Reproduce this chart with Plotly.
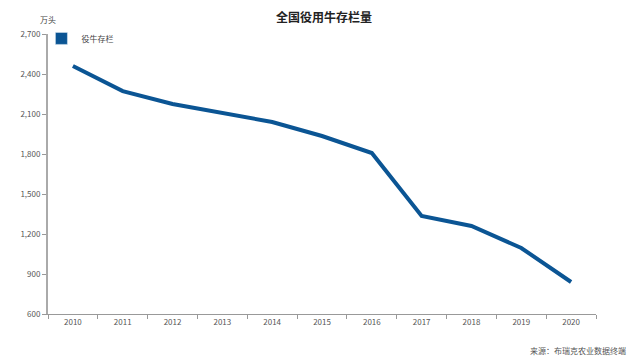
import plotly.graph_objects as go

years = ["2010", "2011", "2012", "2013", "2014", "2015", "2016", "2017", "2018", "2019", "2020"]
values = [2460, 2272, 2175, 2107, 2040, 1935, 1807, 1335, 1260, 1095, 840]
series_name = "役牛存栏"
y_ticks = [600, 900, 1200, 1500, 1800, 2100, 2400, 2700]

color = "#0b5594"
font_cn = "Noto Sans CJK SC"

fig = go.Figure()
fig.add_trace(go.Scatter(x=years, y=values, mode="lines", name=series_name,
                         line=dict(color=color, width=4), showlegend=False))
fig.add_trace(go.Bar(x=years, y=[None] * len(years), name=series_name,
                     marker=dict(color=color), showlegend=True))

fig.update_layout(
    width=632, height=352,
    margin=dict(l=38, r=44, t=26, b=46),
    paper_bgcolor="white", plot_bgcolor="white",
    font=dict(family=font_cn, size=9, color="#555"),
    title=dict(text="<b>全国役用牛存栏量</b>", x=0.5, xanchor="center", y=0.985, yanchor="top",
               font=dict(family=font_cn, size=12, color="#222")),
    legend=dict(x=-0.012, y=1.036, xanchor="left", yanchor="top", bgcolor="rgba(0,0,0,0)",
                font=dict(size=8, color="#444")),
    xaxis=dict(type="category", showline=True, linecolor="#999", linewidth=1,
               ticks="outside", tickson="boundaries", ticklen=4, tickcolor="#999",
               showgrid=False, tickfont=dict(size=8, color="#555")),
    yaxis=dict(range=[600, 2700], tickvals=y_ticks, tickformat=",", showline=True,
               linecolor="#aaa", linewidth=2, ticks="outside", ticklen=4, tickcolor="#999",
               showgrid=False, zeroline=False, tickfont=dict(size=8, color="#555")),
    annotations=[
        dict(text="万头", xref="paper", yref="paper", x=0, y=1.025, xanchor="center", yanchor="bottom",
             showarrow=False, font=dict(size=8, color="#444")),
        dict(text="来源：布瑞克农业数据终端", xref="paper", yref="paper", x=1.058, y=-0.132,
             xanchor="right", yanchor="middle", showarrow=False, font=dict(size=8, color="#555")),
    ],
)

fig.write_html("out.html")
